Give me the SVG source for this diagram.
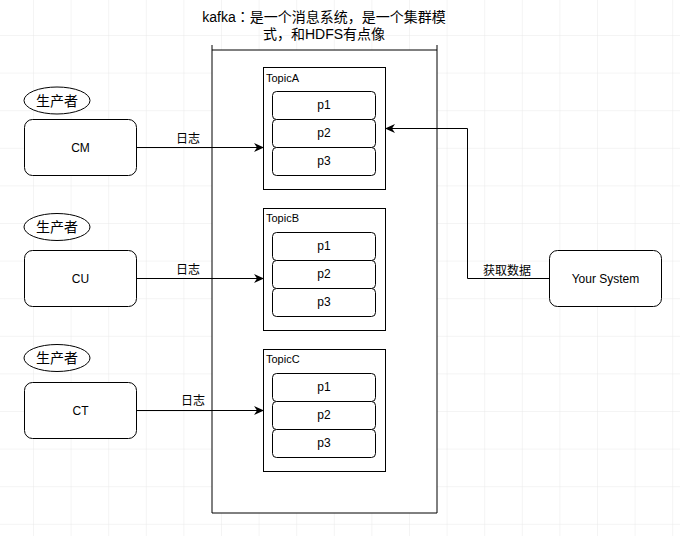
<svg xmlns="http://www.w3.org/2000/svg" width="680" height="536" viewBox="0 0 680 536">
<defs>
<pattern id="grid" patternUnits="userSpaceOnUse" x="-4.6" y="-2.6" width="37.6" height="37.6">
<path d="M0 0V37.6M0 0H37.6" fill="none" stroke="#e9e9e9" stroke-width="1"/>
</pattern>
<marker id="arr" viewBox="0 0 10 10" refX="9" refY="5" markerWidth="10" markerHeight="10" markerUnits="userSpaceOnUse" orient="auto">
<path d="M0 0.5L10 5L0 9.5L3 5Z" fill="#000"/>
</marker>
<style>
.t{font-family:"Liberation Sans","Noto Sans CJK SC",sans-serif;fill:#000;}
.box{fill:#fff;stroke:#000;stroke-width:1;}
.line{fill:none;stroke:#000;stroke-width:1;}
.c{text-anchor:middle;}
</style>
</defs>
<rect width="680" height="536" fill="#fff"/>
<rect width="680" height="536" fill="url(#grid)"/>

<g id="kafka">
<rect x="212" y="50" width="225" height="463" fill="#fff" stroke="none"/>
<path class="line" d="M212 45V513H437V45M212 50H437"/>
<text class="t c" x="324" y="22" font-size="14">kafka<tspan font-family="'Noto Sans CJK TC',sans-serif">：</tspan>是一个消息系统，是一个集群模</text>
<text class="t c" x="324" y="39" font-size="14">式，和HDFS有点像</text>
</g>

<g id="topicA">
<rect class="box" x="263.5" y="67.5" width="122" height="122"/>
<text class="t" x="266" y="82" font-size="11">TopicA</text>
<rect class="box" x="272.5" y="91.5" width="103" height="28" rx="4"/>
<text class="t c" x="324" y="109" font-size="12">p1</text>
<rect class="box" x="272.5" y="119.5" width="103" height="28" rx="4"/>
<text class="t c" x="324" y="137" font-size="12">p2</text>
<rect class="box" x="272.5" y="147.5" width="103" height="28" rx="4"/>
<text class="t c" x="324" y="165" font-size="12">p3</text>
</g>

<g id="topicB">
<rect class="box" x="263.5" y="208.5" width="122" height="122"/>
<text class="t" x="266" y="222" font-size="11">TopicB</text>
<rect class="box" x="272.5" y="232.5" width="103" height="28" rx="4"/>
<text class="t c" x="324" y="250" font-size="12">p1</text>
<rect class="box" x="272.5" y="260.5" width="103" height="28" rx="4"/>
<text class="t c" x="324" y="278" font-size="12">p2</text>
<rect class="box" x="272.5" y="288.5" width="103" height="28" rx="4"/>
<text class="t c" x="324" y="306" font-size="12">p3</text>
</g>

<g id="topicC">
<rect class="box" x="263.5" y="349.5" width="122" height="122"/>
<text class="t" x="266" y="363" font-size="11">TopicC</text>
<rect class="box" x="272.5" y="373.5" width="103" height="28" rx="4"/>
<text class="t c" x="324" y="391" font-size="12">p1</text>
<rect class="box" x="272.5" y="401.5" width="103" height="28" rx="4"/>
<text class="t c" x="324" y="419" font-size="12">p2</text>
<rect class="box" x="272.5" y="429.5" width="103" height="28" rx="4"/>
<text class="t c" x="324" y="447" font-size="12">p3</text>
</g>

<g id="producerLabel1">
<ellipse class="box" cx="57" cy="100.5" rx="33" ry="13.5"/>
<text class="t c" x="57" y="105.5" font-size="14">生产者</text>
</g>
<g id="cm">
<rect class="box" x="24.5" y="119.5" width="112" height="56" rx="8"/>
<text class="t c" x="80.5" y="152" font-size="12">CM</text>
</g>

<g id="producerLabel2">
<ellipse class="box" cx="57" cy="227" rx="33" ry="13.5"/>
<text class="t c" x="57" y="232" font-size="14">生产者</text>
</g>
<g id="cu">
<rect class="box" x="24.5" y="250.5" width="112" height="56" rx="8"/>
<text class="t c" x="80.5" y="283" font-size="12">CU</text>
</g>

<g id="producerLabel3">
<ellipse class="box" cx="57" cy="358" rx="33" ry="13.5"/>
<text class="t c" x="57" y="363" font-size="14">生产者</text>
</g>
<g id="ct">
<rect class="box" x="24.5" y="382.5" width="112" height="56" rx="8"/>
<text class="t c" x="80.5" y="415" font-size="12">CT</text>
</g>

<g id="yourSystem">
<rect class="box" x="549.5" y="250.5" width="112" height="56" rx="8"/>
<text class="t c" x="605.5" y="283" font-size="12">Your System</text>
</g>

<g id="connectors">
<path class="line" d="M137 147.5H263" marker-end="url(#arr)"/>
<text class="t c" x="188" y="143" font-size="12">日志</text>
<path class="line" d="M137 278.5H263" marker-end="url(#arr)"/>
<text class="t c" x="188" y="274" font-size="12">日志</text>
<path class="line" d="M137 410.5H263" marker-end="url(#arr)"/>
<text class="t c" x="193" y="405" font-size="12">日志</text>
<path class="line" d="M549 278.5H467.5V128.5H386" marker-end="url(#arr)"/>
<text class="t c" x="507" y="275" font-size="12">获取数据</text>
</g>
</svg>
